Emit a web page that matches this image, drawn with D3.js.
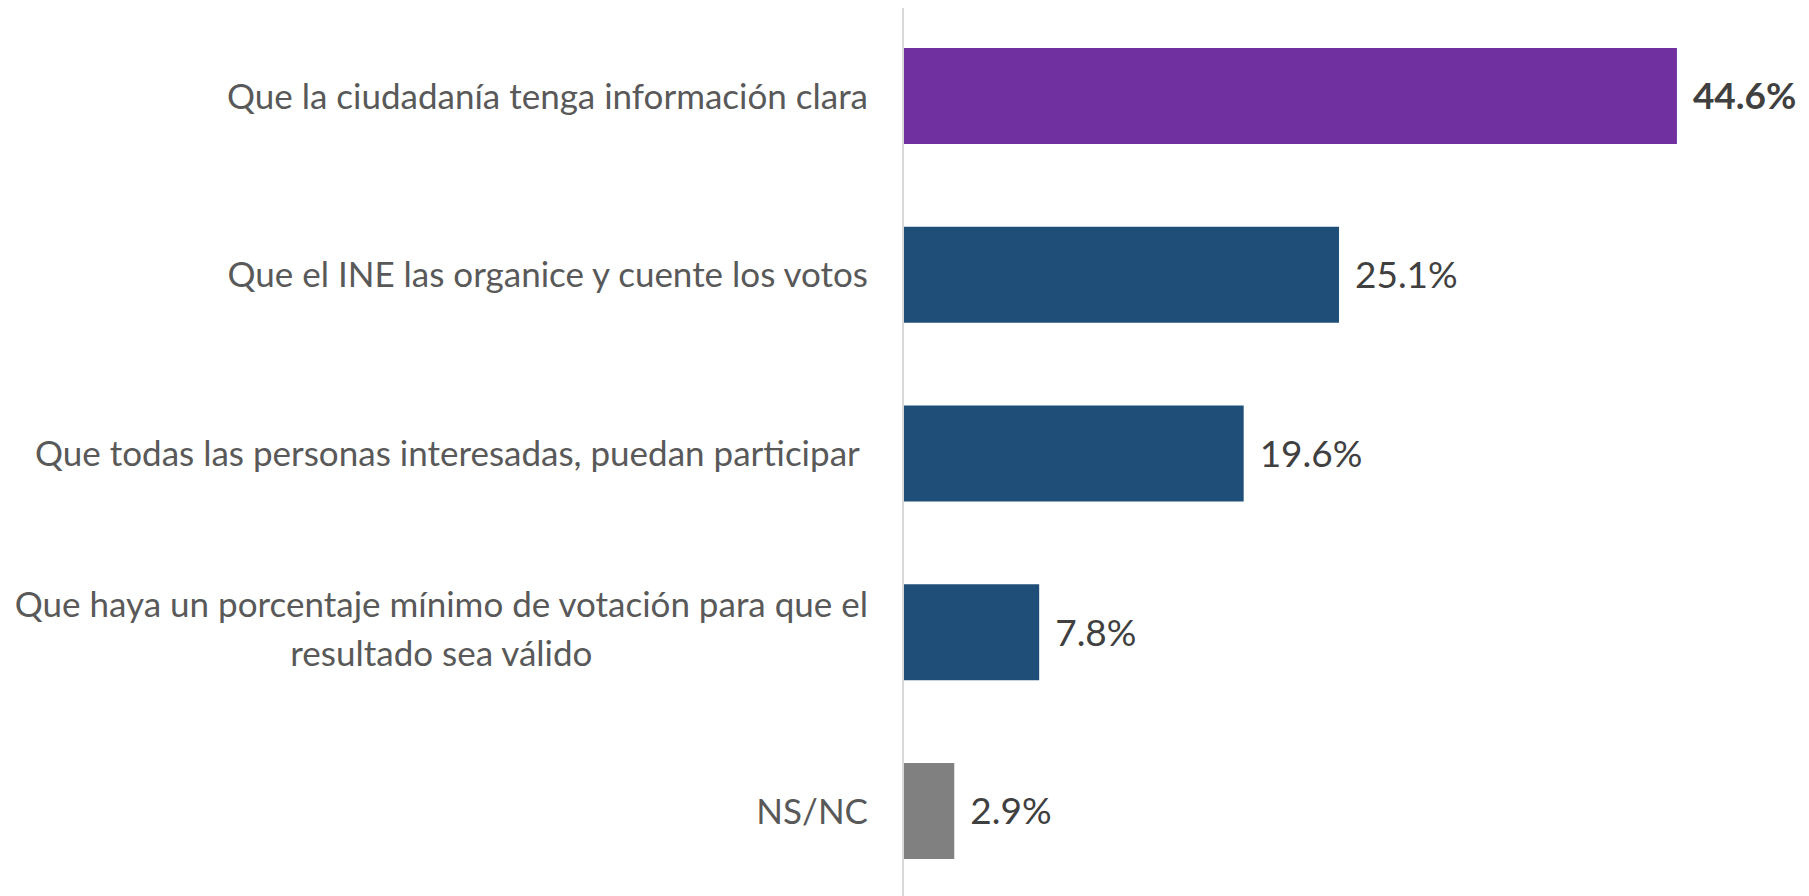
<!DOCTYPE html>
<html>
<head>
<meta charset="utf-8">
<script src="https://cdn.jsdelivr.net/npm/d3@7"></script>
<style>
  body { margin: 0; background: #fff; }
  svg { display: block; font-family: Lato, "Open Sans", sans-serif; }
</style>
</head>
<body>
<svg id="svg" width="1809" height="896"></svg>
<script>
// data
const categories = [
  ["Que la ciudadanía tenga información clara"],
  ["Que el INE las organice y cuente los votos"],
  ["Que todas las personas interesadas, puedan participar "],
  ["Que haya un porcentaje mínimo de votación para que el", "resultado sea válido"],
  ["NS/NC"]
];
const values = [44.6, 25.1, 19.6, 7.8, 2.9];
const barColors = ["#7030A0", "#1F4E79", "#1F4E79", "#1F4E79", "#808080"];
const boldLabel = [true, false, false, false, false];

const axisX = 904;
const axisTop = 8;

var svg = d3.select('#svg');

const xScale = d3.scaleLinear()
  .domain([0, 50])
  .range([axisX, axisX + 866.5]);

const yScale = d3.scaleBand()
  .domain(d3.range(values.length))
  .range([3.3, 903.7])
  .paddingInner(0.463)
  .paddingOuter(0.25);

// bars
svg.selectAll('rect.bar')
  .data(values)
  .enter()
  .append('rect')
  .attr('class', 'bar')
  .attr('x', xScale(0))
  .attr('y', (d, i) => yScale(i))
  .attr('width', d => xScale(d) - xScale(0))
  .attr('height', yScale.bandwidth())
  .style('fill', (d, i) => barColors[i]);

// vertical axis line
svg.append('line')
  .attr('x1', axisX - 1).attr('x2', axisX - 1)
  .attr('y1', axisTop).attr('y2', 896)
  .style('stroke', '#d9d9d9')
  .style('stroke-width', 2);

// value labels
svg.selectAll('text.val')
  .data(values)
  .enter()
  .append('text')
  .attr('class', 'val')
  .attr('x', d => xScale(d) + 16)
  .attr('y', (d, i) => yScale(i) + yScale.bandwidth() / 2)
  .attr('dy', '0.36em')
  .style('font-size', '37px')
  .style('font-weight', (d, i) => boldLabel[i] ? 'bold' : 'normal')
  .style('fill', '#404040')
  .text(d => d.toFixed(1) + '%');

// category labels, right aligned block, lines centred within block
const labelRight = 868;
const lineGap = 49;
categories.forEach(function (lines, i) {
  const cy = yScale(i) + yScale.bandwidth() / 2;
  const shift = lines.length > 1 ? -3 : 0;
  const g = svg.append('g');
  const texts = lines.map(function (ln, k) {
    return g.append('text')
      .attr('y', cy + shift + (k - (lines.length - 1) / 2) * lineGap)
      .attr('dy', '0.36em')
      .style('font-size', '35px')
      .style('fill', '#595959')
      .style('white-space', 'pre')
      .text(ln);
  });
  if (lines.length === 1) {
    texts[0].attr('x', labelRight).attr('text-anchor', 'end');
  } else {
    const w = d3.max(texts, t => t.node().getComputedTextLength());
    texts.forEach(t => t.attr('x', labelRight - w / 2).attr('text-anchor', 'middle'));
  }
});
</script>
</body>
</html>
